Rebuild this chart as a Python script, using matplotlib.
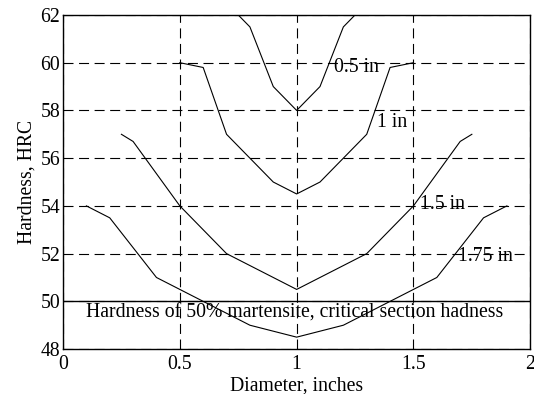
import matplotlib
matplotlib.use('Agg')
import matplotlib.pyplot as plt

plt.rcParams['font.family'] = ['Liberation Serif', 'DejaVu Serif']

# diameter (in) vs hardness (HRC) for each quench depth curve
d_05 = [0.75, 0.8, 0.9, 1.0, 1.1, 1.2, 1.25]
h_05 = [62, 61.5, 59, 58, 59, 61.5, 62]

d_10 = [0.5, 0.6, 0.7, 0.9, 1.0, 1.1, 1.3, 1.4, 1.5]
h_10 = [60, 59.8, 57, 55, 54.5, 55, 57, 59.8, 60]

d_15 = [0.25, 0.3, 0.5, 0.7, 1.0, 1.3, 1.5, 1.7, 1.75]
h_15 = [57, 56.7, 54, 52, 50.5, 52, 54, 56.7, 57]

d_175 = [0.1, 0.2, 0.4, 0.8, 1.0, 1.2, 1.6, 1.8, 1.9]
h_175 = [54, 53.5, 51, 49, 48.5, 49, 51, 53.5, 54]

critical = 50
labels = ['0.5 in', '1 in', '1.5 in', '1.75 in']
label_pos = [(1.16, 59.8), (1.345, 57.5), (1.53, 54.05), (1.69, 51.9)]

fs = 14.2

fig = plt.figure(figsize=(5.34, 3.94), dpi=100)
ax = fig.add_axes([0.118, 0.114, 0.875, 0.848])

for d, h in [(d_05, h_05), (d_10, h_10), (d_15, h_15), (d_175, h_175)]:
    ax.plot(d, h, color='black', lw=0.8)

ax.axhline(critical, color='black', lw=1.0)
ax.text(0.1, 49.52, 'Hardness of 50% martensite, critical section hadness',
        fontsize=fs, va='center', ha='left')

for txt, (x, y) in zip(labels, label_pos):
    ax.text(x, y, txt, fontsize=fs, va='center', ha='left')

ax.set_xlim(0, 2)
ax.set_ylim(48, 62)
ax.set_xticks([0, 0.5, 1, 1.5, 2])
ax.set_xticklabels(['0', '0.5', '1', '1.5', '2'])
ax.set_yticks(range(48, 63, 2))
ax.tick_params(axis='x', length=0, labelsize=fs, pad=4)
ax.tick_params(axis='y', length=0, labelsize=fs, pad=2)
ax.grid(True, color='black', lw=0.8, linestyle=(0, (9, 5)))
for s in ax.spines.values():
    s.set_linewidth(1.0)

ax.set_xlabel('Diameter, inches', fontsize=fs, labelpad=2)
ax.set_ylabel('Hardness, HRC', fontsize=fs, labelpad=3)

fig.savefig('out.png', dpi=100)
